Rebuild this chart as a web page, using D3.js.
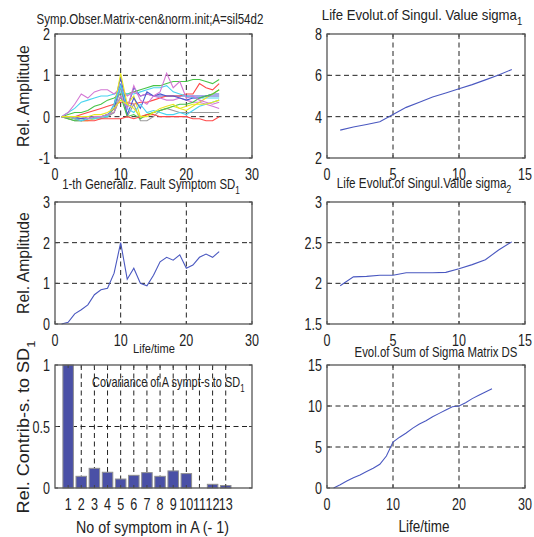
<!DOCTYPE html>
<html>
<head>
<meta charset="utf-8">
<script src="https://cdn.jsdelivr.net/npm/d3@7"></script>
<style>
body { margin: 0; background: #fff; }
text { font-family: "Liberation Sans", Arial, sans-serif; fill: #222; }
</style>
</head>
<body>
<script>
// data
const lifeTime = [1,2,3,4,5,6,7,8,9,10,11,12,13,14,15,16,17,18,19,20,21,22,23,24,25]
const sigmaTime = [1,2,3,4,5,6,7,8,9,10,11,12,13,14]

const symptoms = [
	[0,0,-0.05,-0.05,-0.05,0,0,0,0.3,0.95,0.2,0.7,0.5,0.55,0.5,0.5,0.5,0.5,0.5,0.5,0.5,0.5,0.5,0.55,0.55],
	[0,0.05,0.1,0.1,0.15,0.25,0.3,0.4,0.45,0.55,0.55,0.6,0.65,0.7,0.75,0.75,0.8,0.85,0.85,0.85,0.9,0.9,0.85,0.8,0.9],
	[0,0,0,0.05,0.1,0.15,0.2,0.25,0.3,0.35,0.35,0.3,0.35,0.35,0.4,0.45,0.5,0.5,0.5,0.55,0.55,0.8,0.7,0.65,0.8],
	[0,0.1,0.2,0.35,0.4,0.45,0.5,0.5,0.55,0.6,0.55,0.55,0.6,0.65,0.7,0.7,0.75,0.6,0.55,0.5,0.45,0.45,0.45,0.45,0.45],
	[0,0.1,0.3,0.55,0.45,0.6,0.65,0.65,0.55,0.7,0.5,0.6,0.5,0.55,0.5,0.45,0.4,0.4,0.45,0.4,0.35,0.35,0.3,0.25,0.2],
	[0,-0.05,-0.05,-0.1,-0.1,-0.05,0,0,0.2,1.05,0.3,0.5,0,0.05,0.1,0.15,0.2,0.25,0.2,0.15,0.25,0.35,0.45,0.55,0.65],
	[0,-0.05,-0.1,-0.1,-0.05,-0.05,-0.05,0,0.1,0.7,0,0.3,-0.1,-0.1,0,0.15,0.2,0.15,0.1,0.1,0.1,0.1,0.1,0.1,0.1],
	[0,0,0,-0.05,0,0,0,0.05,0.2,0.8,0.05,0.45,0.2,0.6,0.5,0.55,0.5,0.5,0.45,0.4,0.45,0.45,0.5,0.5,0.5],
	[0,-0.05,-0.1,-0.1,-0.05,0,0,0.05,0.1,0.5,0,0.05,-0.05,0.05,0.1,0.15,0.2,0.25,0.3,0.3,0.35,0.45,0.5,0.55,0.65],
	[0,0,-0.05,-0.1,-0.1,-0.1,-0.05,-0.05,-0.05,-0.05,0,-0.05,0,0.05,0.05,0,0,0,0,0,-0.05,-0.05,-0.1,-0.1,0],
	[0,0,-0.05,-0.1,-0.05,-0.05,0,0,0.3,0.75,0.2,0.1,0.3,0.1,0.15,0.1,0.05,0.05,0.1,0.05,0.15,0.25,0.3,0.35,0.4],
	[0,0,0,0,-0.05,0,0,0.05,0.1,0.5,0.2,0.75,0.4,0.3,0.5,0.6,1.05,0.7,0.85,0.45,0.5,0.4,0.35,0.3,0.35],
	[0,0,0,0,0,0.05,0.05,0.1,0.2,0.4,0.3,0.2,0,0,0.1,0.2,0.25,0.3,0.2,0.25,0.3,0.3,0.3,0.35,0.4]
]
const symptomColors = ['#4a58d0', '#48c448', '#ff4848', '#48d4f0', '#d478d4', '#e8e820', '#9a9a9a']

const sd1 = [0,0.04,0.25,0.35,0.47,0.72,0.84,0.88,1.25,2.0,1.1,1.37,1.0,0.94,1.2,1.53,1.64,1.57,1.7,1.37,1.45,1.64,1.72,1.64,1.78]
const sigma1 = [3.35,3.5,3.62,3.75,4.1,4.45,4.7,4.95,5.15,5.35,5.55,5.78,6.02,6.28]
const sigma2 = [1.97,2.08,2.085,2.1,2.1,2.13,2.13,2.13,2.135,2.18,2.23,2.29,2.41,2.51]
const sumDS = [0,0.4,0.85,1.25,1.6,2.0,2.4,2.9,3.9,5.6,6.2,6.7,7.3,7.8,8.2,8.7,9.1,9.5,9.9,10.0,10.4,10.9,11.3,11.7,12.1]

const symptomNo = [1,2,3,4,5,6,7,8,9,10,11,12,13]
const contrib = [1.0,0.095,0.16,0.128,0.073,0.103,0.125,0.095,0.139,0.117,0,0.03,0.02]

const lineBlue = '#4a58c0'
const tickScale = 0.74
const W = 534, H = 537

const svg = d3.select('body').append('svg')
	.attr('width', W)
	.attr('height', H)

const cols = [[55, 252], [327, 525]]
const rows = [[34, 158], [202, 324], [365, 488]]

// squeeze a text horizontally so it spans `width` px (the original uses a narrow face)
const label = (x, y, txt, size, width, opts = {}) => {
	const t = svg.append('text')
		.attr('text-anchor', opts.anchor || 'middle')
		.style('font-size', size + 'px')
		.text(txt)
	if (opts.sub) t.append('tspan').attr('dy', size * 0.35).style('font-size', (size * 0.72) + 'px').text(opts.sub)
	const w = t.node().getBBox().width
	const s = width ? width / w : 1
	const rot = opts.rotate ? ' rotate(-90)' : ''
	t.attr('transform', `translate(${x},${y})${rot} scale(${s},1)`)
	return t
}

// one MATLAB-like axes box
const makeAxes = (col, row, xDomain, yDomain, xTicks, yTicks, opts = {}) => {
	const x = d3.scaleLinear().domain(xDomain).range(cols[col])
	const y = d3.scaleLinear().domain(yDomain).range([rows[row][1], rows[row][0]])
	const g = svg.append('g')
	const [x0, x1] = cols[col]
	const [y0, y1] = rows[row]

	// dashed grid
	g.selectAll('.gx').data(xTicks.filter(t => t > xDomain[0] && t < xDomain[1]))
		.enter().append('line')
		.attr('x1', d => x(d)).attr('x2', d => x(d))
		.attr('y1', y0).attr('y2', y1)
		.attr('stroke', '#222').attr('stroke-dasharray', '5,3.5')
	g.selectAll('.gy').data(yTicks.filter(t => t > yDomain[0] && t < yDomain[1]))
		.enter().append('line')
		.attr('y1', d => y(d)).attr('y2', d => y(d))
		.attr('x1', x0).attr('x2', x1)
		.attr('stroke', '#222').attr('stroke-dasharray', '5,3.5')

	// tick labels
	g.selectAll('.tx').data(xTicks).enter().append('text')
		.attr('transform', d => `translate(${x(d)},${y1 + 22}) scale(${tickScale},1)`)
		.attr('text-anchor', 'middle')
		.style('font-size', '17px')
		.text(d => d)
	g.selectAll('.ty').data(yTicks).enter().append('text')
		.attr('transform', d => `translate(${x0 - 5},${y(d) + 6}) scale(${tickScale},1)`)
		.attr('text-anchor', 'end')
		.style('font-size', '17px')
		.text(d => d)

	return { g, x, y, x0, x1, y0, y1, xTicks, yTicks }
}

const drawBox = (a) => {
	const t = 3
	a.g.selectAll('.kx').data(a.xTicks).enter().append('path')
		.attr('d', d => `M${a.x(d)},${a.y1}v${-t}M${a.x(d)},${a.y0}v${t}`)
		.attr('stroke', '#444')
	a.g.selectAll('.ky').data(a.yTicks).enter().append('path')
		.attr('d', d => `M${a.x0},${a.y(d)}h${t}M${a.x1},${a.y(d)}h${-t}`)
		.attr('stroke', '#444')
	a.g.append('rect')
		.attr('x', a.x0).attr('y', a.y0)
		.attr('width', a.x1 - a.x0).attr('height', a.y1 - a.y0)
		.attr('fill', 'none').attr('stroke', '#555').attr('stroke-width', 1.3)
}

const plotLine = (a, xs, ys, color) => {
	a.g.append('path')
		.attr('d', d3.line().x((d, i) => a.x(xs[i])).y(d => a.y(d))(ys))
		.attr('fill', 'none')
		.attr('stroke', color)
		.attr('stroke-width', 1.1)
}

// top left: symptom observation matrix
const a1 = makeAxes(0, 0, [0, 30], [-1, 2], [0, 10, 20, 30], [-1, 0, 1, 2])
symptoms.forEach((s, i) => plotLine(a1, lifeTime, s, symptomColors[i % symptomColors.length]))
drawBox(a1)
label(150, 24, 'Symp.Obser.Matrix-cen&norm.init;A=sil54d2', 14, 227)
label(29, 96, 'Rel. Amplitude', 16, 102, { rotate: true })

// top right: sigma 1
const a2 = makeAxes(1, 0, [0, 15], [2, 8], [0, 5, 10, 15], [2, 4, 6, 8])
plotLine(a2, sigmaTime, sigma1, lineBlue)
drawBox(a2)
label(422, 20, 'Life Evolut.of Singul. Value sigma', 14, 201, { sub: '1' })

// middle left: SD1
const a3 = makeAxes(0, 1, [0, 30], [0, 3], [0, 10, 20, 30], [0, 1, 2, 3])
plotLine(a3, lifeTime, sd1, lineBlue)
drawBox(a3)
label(151, 189, '1-th Generaliz. Fault Symptom SD', 14, 178, { sub: '1' })
label(29, 263, 'Rel. Amplitude', 16, 102, { rotate: true })
label(154, 353, 'Life/time', 13, 42)

// middle right: sigma 2
const a4 = makeAxes(1, 1, [0, 15], [1.5, 3], [0, 5, 10, 15], [1.5, 2, 2.5, 3])
plotLine(a4, sigmaTime, sigma2, lineBlue)
drawBox(a4)
label(424, 188, 'Life Evolut.of Singul.Value sigma', 14, 175, { sub: '2' })

// bottom left: covariance bars
const a5 = makeAxes(0, 2, [0, 15], [0, 1], symptomNo, [0, 0.5, 1])
const bw = (a5.x(1) - a5.x(0)) * 0.8
a5.g.selectAll('.bar').data(contrib).enter().append('rect')
	.attr('x', (d, i) => a5.x(symptomNo[i]) - bw / 2)
	.attr('y', d => a5.y(d))
	.attr('width', bw)
	.attr('height', d => a5.y(0) - a5.y(d))
	.attr('fill', '#4a50a6')
	.attr('stroke', '#909090')
drawBox(a5)
label(92, 387, 'Covariance of A sympt-s to SD', 14, 153, { anchor: 'start', sub: '1' })
label(29, 427, 'Rel. Contrib-s. to SD', 16, 173, { rotate: true, sub: '1' })
label(152.5, 533, 'No of symptom in A (- 1)', 17, 153)

// bottom right: sum of sigma
const a6 = makeAxes(1, 2, [0, 30], [0, 15], [0, 10, 20, 30], [0, 5, 10, 15])
plotLine(a6, lifeTime, sumDS, lineBlue)
drawBox(a6)
label(436, 357, 'Evol.of Sum of Sigma Matrix DS', 14, 163)
label(424, 532, 'Life/time', 17, 51)
</script>
</body>
</html>
